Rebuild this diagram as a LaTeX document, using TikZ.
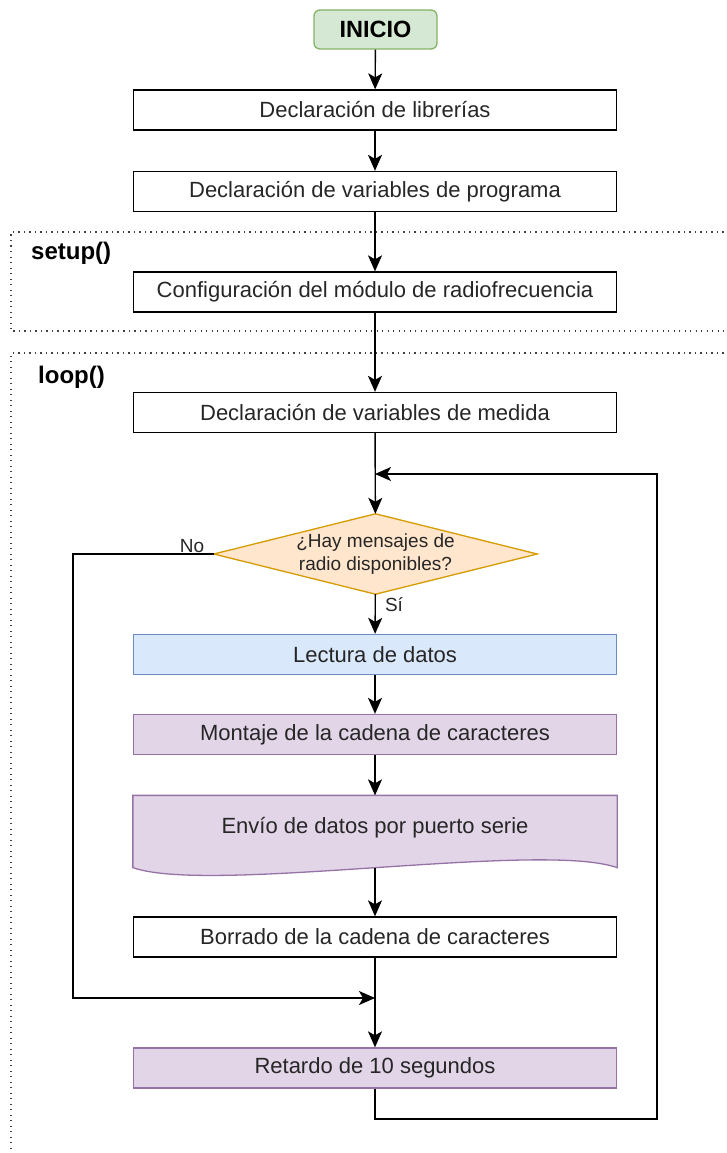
\documentclass[tikz,border=0pt]{standalone}
\usepackage{fontspec}
\setmainfont{Liberation Sans}
\usetikzlibrary{arrows.meta}
\pgfdeclarelayer{background}
\pgfsetlayers{background,main}
\definecolor{startfill}{HTML}{D5E8D4}
\definecolor{startdraw}{HTML}{82B366}
\definecolor{askfill}{HTML}{FFE6CC}
\definecolor{askdraw}{HTML}{D79B00}
\definecolor{readfill}{HTML}{DAE8FC}
\definecolor{readdraw}{HTML}{6C8EBF}
\definecolor{sendfill}{HTML}{E1D5E7}
\definecolor{senddraw}{HTML}{9673A6}
\tikzset{
  proc/.style={draw=black, line width=1.3pt, minimum width=483pt, minimum height=40pt,
    inner sep=0pt, text=black!85, font=\fontsize{22}{26}\selectfont},
  start/.style={draw=startdraw, fill=startfill, line width=1.3pt, rounded corners=6pt,
    minimum width=123pt, minimum height=39pt, inner sep=0pt, font=\bfseries\fontsize{23.5}{27}\selectfont},
  ask/.style={minimum width=323pt, minimum height=80pt, inner sep=0pt, align=center,
    text=black!85, font=\fontsize{19}{23}\selectfont},
  askshape/.style={draw=askdraw, fill=askfill, line width=1.3pt},
  read/.style={proc, draw=readdraw, fill=readfill},
  send/.style={proc, draw=senddraw, fill=sendfill},
  sendshape/.style={draw=senddraw, fill=sendfill, line width=1.3pt},
  lbl/.style={inner sep=0pt, text=black!85, font=\fontsize{19}{23}\selectfont},
  title/.style={inner sep=0pt, anchor=west, font=\bfseries\fontsize{24}{28}\selectfont},
  region/.style={draw=black!75, line width=1.1pt, dash pattern=on 1.2pt off 4.3pt},
  flow/.style={line width=1.4pt, -{Stealth[length=16pt,width=14pt,inset=4pt]}}
}
\begin{document}
\begin{tikzpicture}[x=1pt, y=-1pt]
  \useasboundingbox (0,0) rectangle (727,1153);
  % regiones setup() y loop()
  \draw[region] (740,232) -- (11,232) -- (11,331) -- (740,331);
  \draw[region] (740,353) -- (11,353) -- (11,1160);
  \node[title] (setup) at (31,253) {setup()};
  \node[title] (loop) at (38,377) {loop()};
  %
  \node[start] (inicio) at (375.5,29.5) {INICIO};
  \node[proc] (libs) at (375,110) {Declaración de librerías};
  \node[proc] (vars) at (375,191.5) {Declaración de variables de programa};
  \node[proc] (config) at (375,292) {Configuración del módulo de radiofrecuencia};
  \node[proc] (medida) at (375,412.5) {Declaración de variables de medida};
  \node[ask] (hay) at (375.5,554) {¿Hay mensajes de\\radio disponibles?};
  \node[read] (lectura) at (375,654.5) {Lectura de datos};
  \node[send] (montaje) at (375,734.5) {Montaje de la cadena de caracteres};
  \node[proc, draw=none, minimum height=71pt, text depth=12pt] (envio) at (375,831.5) {Envío de datos por puerto serie};
  \node[proc] (borrado) at (375,937) {Borrado de la cadena de caracteres};
  \node[send] (retardo) at (375,1068) {Retardo de 10 segundos};
  \node[lbl] (no) at (192,546) {No};
  \node[lbl] (si) at (394,605) {Sí};
  %
  \begin{pgfonlayer}{background}
    \draw[askshape] (hay.north) -- (hay.east) -- (hay.south) -- (hay.west) -- cycle;
    \draw[sendshape] (envio.north west) -- (envio.north east) -- (envio.south east)
      .. controls +(-76,-27) and +(77,27) .. (envio.south west) -- cycle;
  \end{pgfonlayer}
  %
  \coordinate (M) at (375,474);
  \coordinate (J) at (375,998);
  \coordinate (N1) at (73,998);
  \coordinate (R1) at (657,1119);
  \draw[flow] (inicio) -- (libs);
  \draw[flow] (libs) -- (vars);
  \draw[flow] (vars) -- (config);
  \draw[flow] (config) -- (medida);
  \draw[flow] (medida) -- (hay);
  \draw[flow] (hay) -- (lectura);
  \draw[flow] (lectura) -- (montaje);
  \draw[flow] (montaje) -- (envio);
  \draw[flow] (envio.south) -- (borrado);
  \draw[flow] (borrado) -- (retardo);
  \draw[flow] (hay.west) -| (N1) -- (J);
  \draw[flow] (retardo.south) |- (R1) |- (M);
\end{tikzpicture}
\end{document}
